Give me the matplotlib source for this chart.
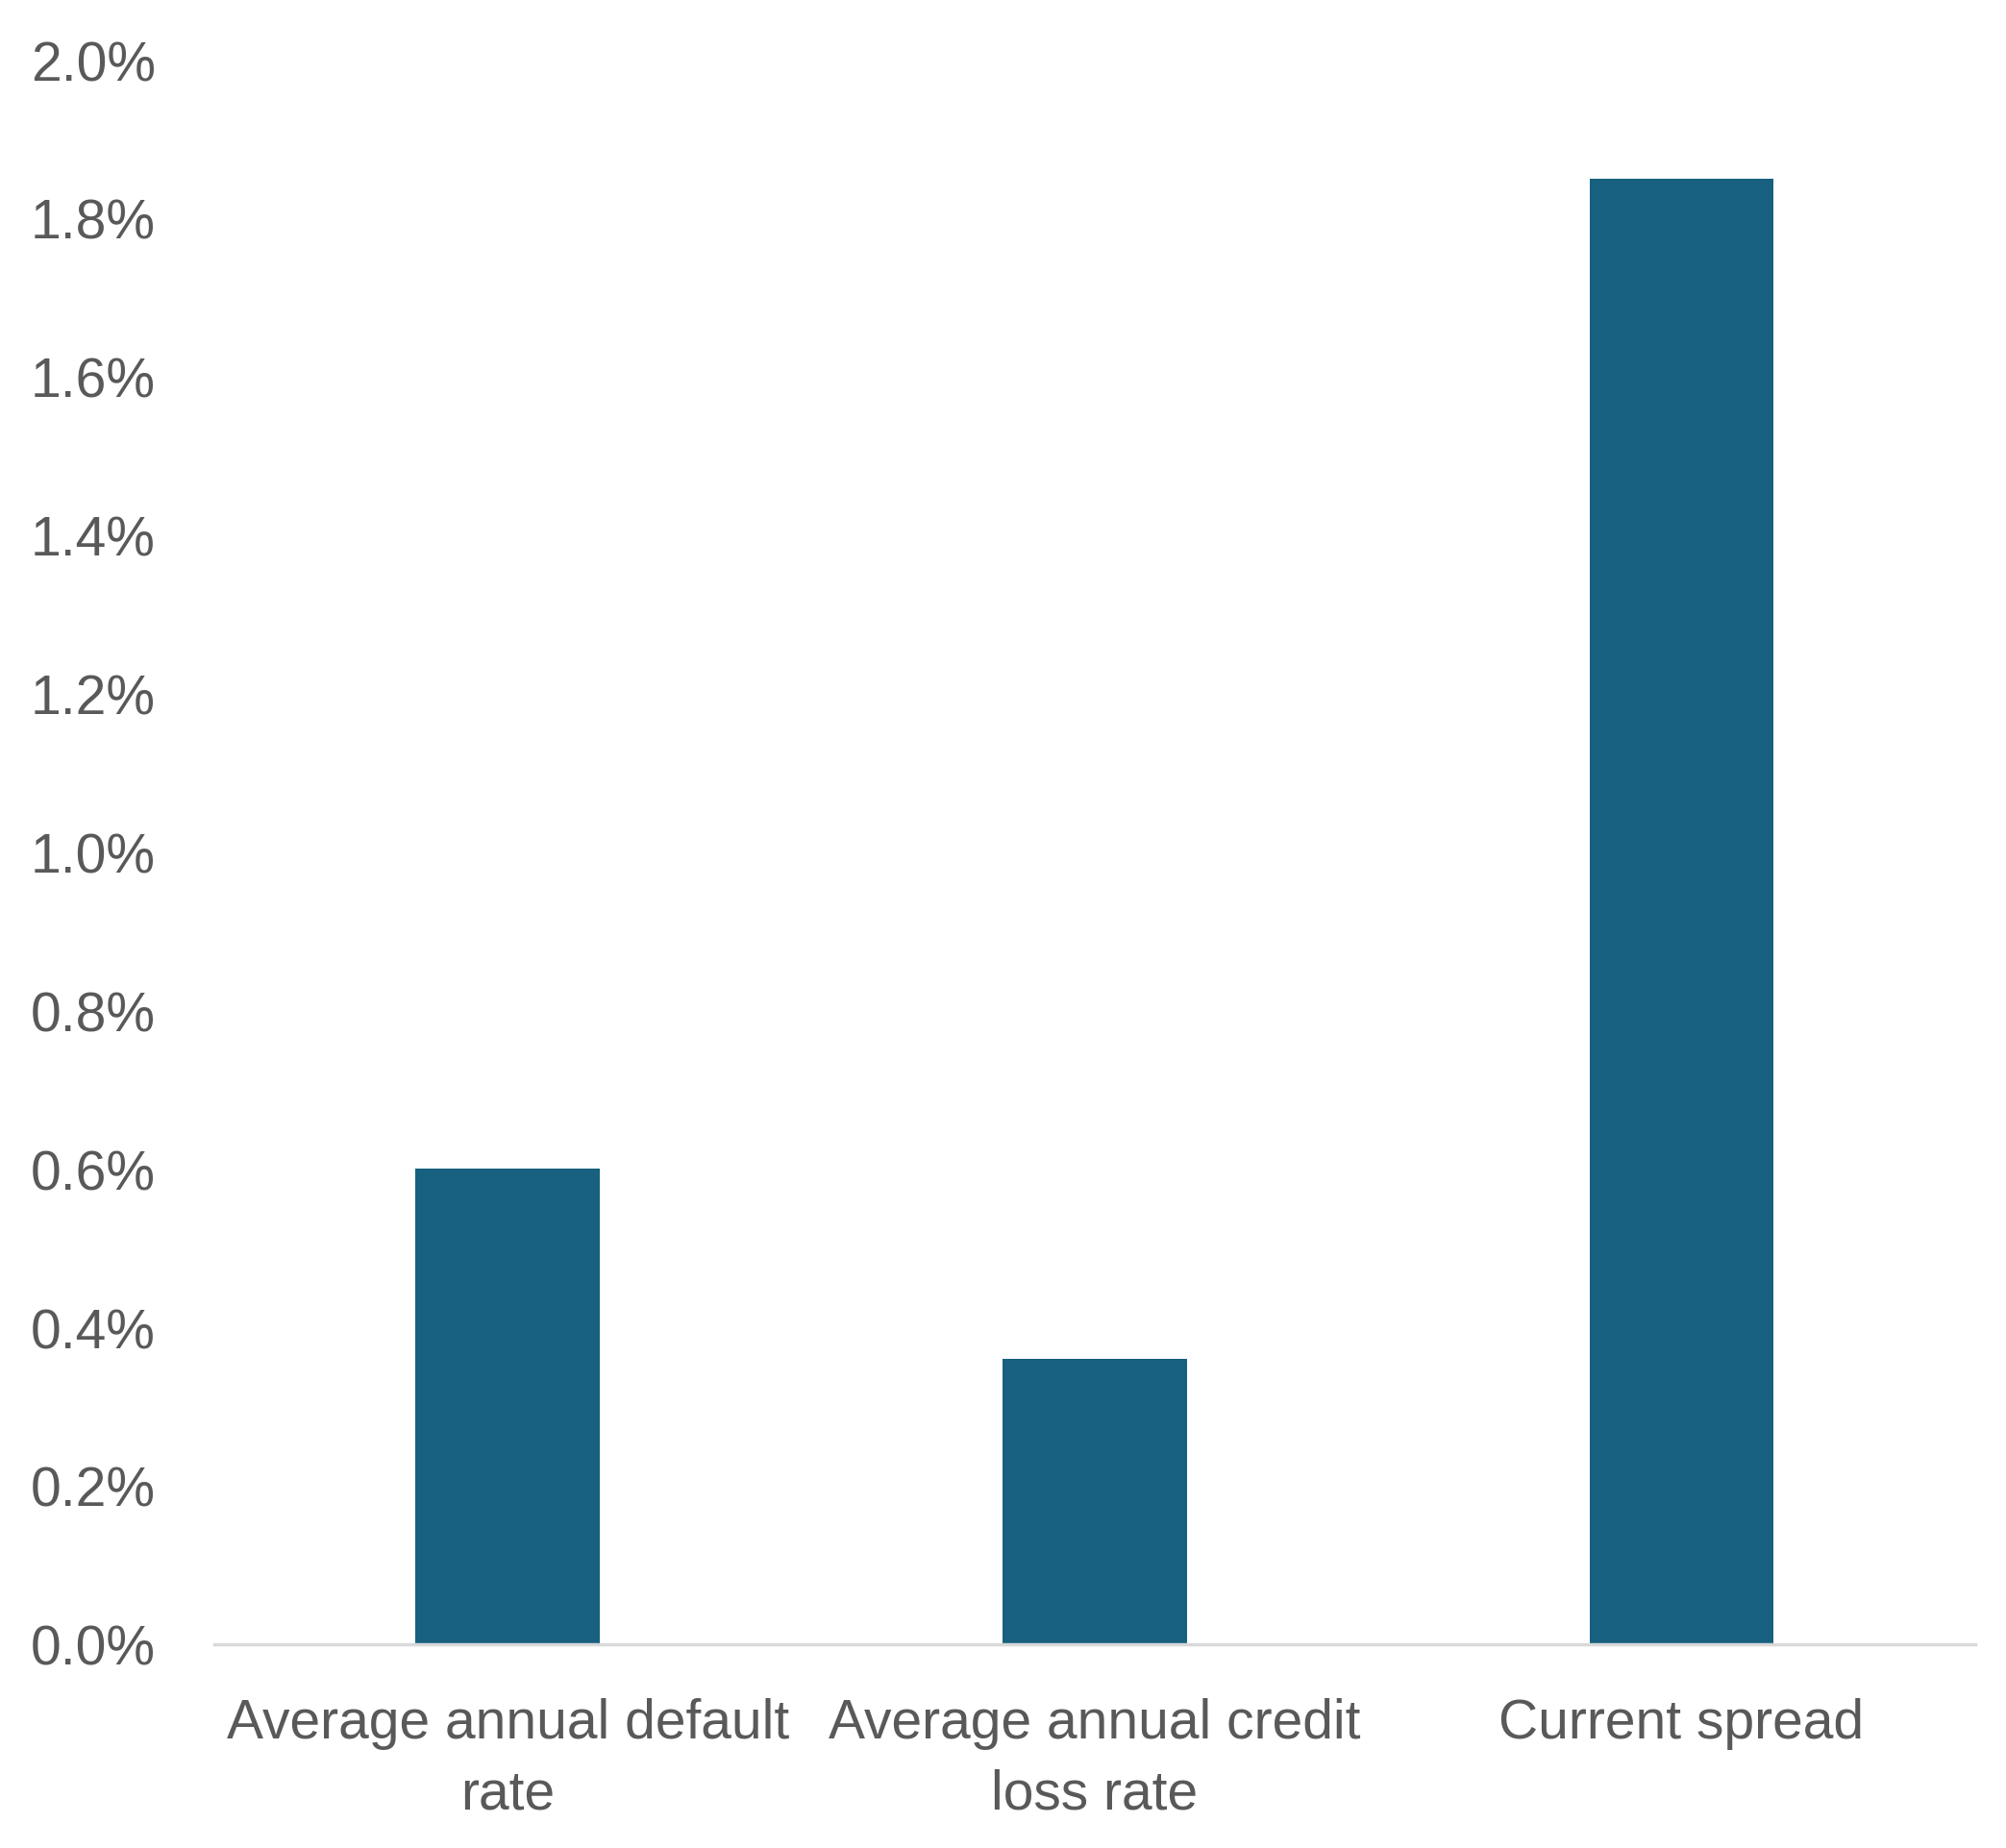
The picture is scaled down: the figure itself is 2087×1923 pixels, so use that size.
import matplotlib.pyplot as plt
from matplotlib.ticker import FuncFormatter

categories = ["Average annual default\nrate", "Average annual credit\nloss rate", "Current spread"]
values = [0.60, 0.36, 1.85]
yticks = [0.0, 0.2, 0.4, 0.6, 0.8, 1.0, 1.2, 1.4, 1.6, 1.8, 2.0]

plt.rcParams['font.family'] = ['Liberation Sans', 'DejaVu Sans']

fig = plt.figure(figsize=(20.87, 19.24), dpi=100)
ax = fig.add_axes([0.1068, 0.1103, 0.8778, 0.8569])

x = range(len(categories))
ax.bar(x, values, width=0.314, color='#17607F', zorder=2)

ax.set_xlim(-0.5, 2.5)
ax.set_ylim(0, 2.0)
ax.set_yticks(yticks)
ax.yaxis.set_major_formatter(FuncFormatter(lambda v, p: f"{v:.1f}%"))
ax.set_xticks(list(x))
ax.set_xticklabels(categories, linespacing=1.45)

for s in ['top', 'right', 'left']:
    ax.spines[s].set_visible(False)
ax.spines['bottom'].set_color('#D9D9D9')
ax.spines['bottom'].set_linewidth(2.5)

ax.tick_params(axis='both', length=0, labelsize=41, colors='#595959')
ax.tick_params(axis='y', pad=44)
ax.tick_params(axis='x', pad=40)

fig.savefig('out.png', dpi=100, facecolor='white')
